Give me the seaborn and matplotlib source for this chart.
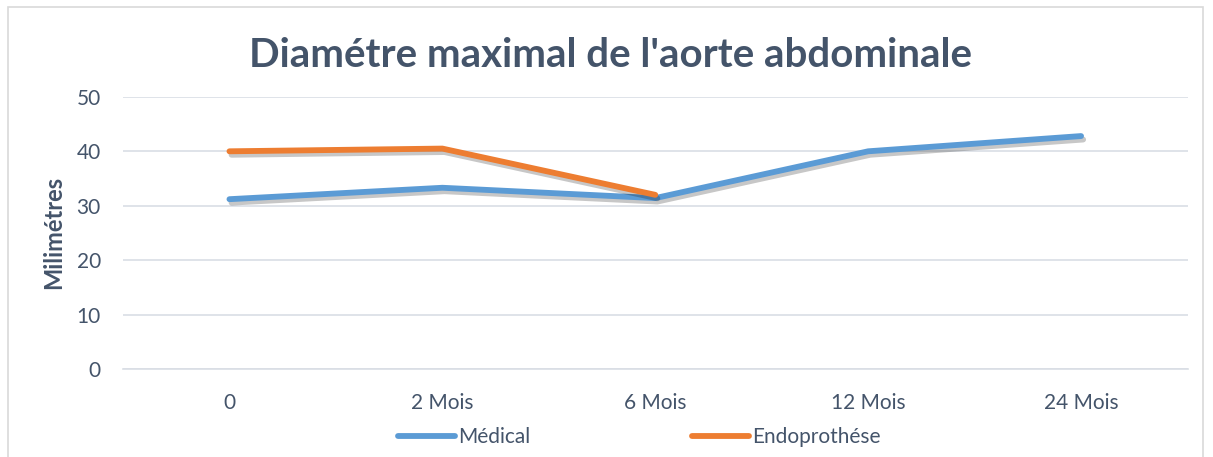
import numpy as np
import pandas as pd
import matplotlib.pyplot as plt
import matplotlib.patheffects as pe
import seaborn as sns

# data
periods = ["0", "2 Mois", "6 Mois", "12 Mois", "24 Mois"]
medical = [31.2, 33.3, 31.4, 40.0, 42.8]
endo = [40.0, 40.5, 32.0, np.nan, np.nan]
series_names = ["Médical", "Endoprothése"]
colors = ["#5B9BD5", "#ED7D31"]

df = pd.DataFrame({"Période": periods * 2,
                   "x": list(range(len(periods))) * 2,
                   "Milimétres": medical + endo,
                   "Série": [series_names[0]] * 5 + [series_names[1]] * 5})

sns.set_style("white")
plt.rcParams["font.family"] = ["Lato", "DejaVu Sans"]
txt = "#44546A"
fs = 15

fig = plt.figure(figsize=(12.13, 4.57), dpi=100)
ax = fig.add_axes([0.1014, 0.1926, 0.8776, 0.5954])

shadow = [pe.SimpleLineShadow(offset=(1.5, -2.5), shadow_color="#000000", alpha=0.22), pe.Normal()]
sns.lineplot(data=df, x="x", y="Milimétres", hue="Série", palette=colors,
             linewidth=4.2, ax=ax, legend=False, solid_capstyle="round")
for ln in ax.lines:
    ln.set_path_effects(shadow)

ax.set_xlim(-0.5, len(periods) - 0.5)
ax.set_ylim(0, 50)
ax.set_yticks(range(0, 51, 10))
ax.set_xticks(range(len(periods)))
ax.set_xticklabels(periods)
ax.set_xticks(np.arange(-0.5, len(periods), 1), minor=True)
ax.yaxis.grid(True, color="#D9DEE5", linewidth=1.2)
ax.set_axisbelow(True)
for s in ["top", "right", "left"]:
    ax.spines[s].set_visible(False)
ax.spines["bottom"].set_color("#D9DEE5")
ax.spines["bottom"].set_linewidth(1.2)
ax.tick_params(axis="x", which="major", length=0, pad=17, labelsize=fs, labelcolor=txt)
ax.tick_params(axis="x", which="minor", length=6, color="#D9DEE5", width=1.2, direction="out")
ax.tick_params(axis="y", length=0, pad=16, labelsize=fs, labelcolor=txt)
ax.set_xlabel("")
ax.set_ylabel("Milimétres", fontsize=17, fontweight="bold", color=txt, labelpad=8)

fig.text(0.503, 0.878, "Diamétre maximal de l'aorte abdominale", ha="center", va="center",
         fontsize=29, fontweight="bold", color=txt)

handles = [plt.Line2D([], [], color=c, lw=4.2, solid_capstyle="round") for c in colors]
fig.legend(handles, series_names, loc="center", bbox_to_anchor=(0.527, 0.043), ncol=2,
           frameon=False, fontsize=fs, labelcolor=txt, handlelength=2.7, handletextpad=0.15,
           columnspacing=7.8)

# chart border
fig.patches.append(plt.Rectangle((0.0066, -0.01), 0.985, 0.995, transform=fig.transFigure,
                                 fill=False, edgecolor="#D9D9D9", linewidth=1.2))

fig.savefig("out.png", dpi=100)
